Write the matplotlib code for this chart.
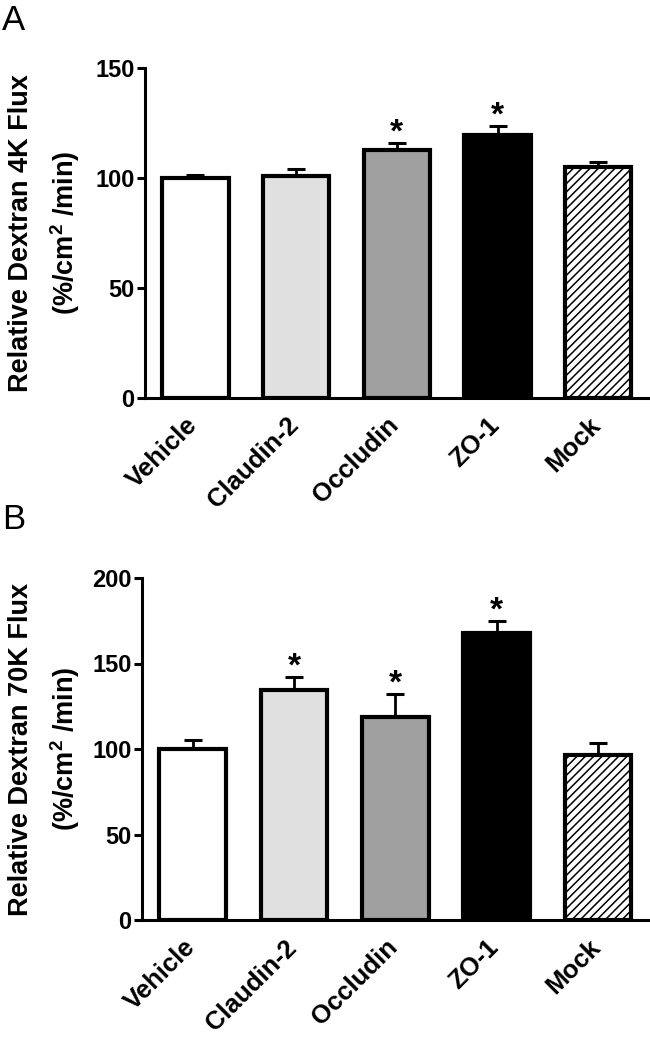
import matplotlib
matplotlib.use('Agg')
import matplotlib.pyplot as plt
import matplotlib.transforms as mtransforms
import numpy

plt.rcParams['font.family'] = ['Liberation Sans', 'DejaVu Sans']
plt.rcParams['font.weight'] = 'bold'
plt.rcParams['mathtext.fontset'] = 'custom'
plt.rcParams['mathtext.rm'] = 'Liberation Sans:bold'
plt.rcParams['mathtext.bf'] = 'Liberation Sans:bold'
plt.rcParams['hatch.linewidth'] = 1.1

groups = ['Vehicle', 'Claudin-2', 'Occludin', 'ZO-1', 'Mock']

flux_4k = [100.0, 101.0, 112.7, 119.8, 105.1]
err_4k = [1.5, 3.0, 3.2, 4.0, 2.4]
sig_4k = [False, False, True, True, False]

flux_70k = [100.0, 134.3, 118.6, 168.0, 96.6]
err_70k = [5.5, 7.8, 13.6, 6.6, 7.0]
sig_70k = [False, True, True, True, False]

FACES = ['white', '#e0e0e0', '#a0a0a0', 'black', 'white']
HATCHES = ['', '', '', '', '////']


def plot_panel(ax, values, errors, stars, ymax, step, ylabel, fig):
    x = numpy.arange(len(values))
    for i in range(len(values)):
        ax.bar(x[i], values[i], width=0.66, color=FACES[i], edgecolor='black',
               linewidth=3.0, hatch=HATCHES[i], zorder=2)
    ax.errorbar(x, values, yerr=[numpy.zeros(len(values)), errors], fmt='none',
                ecolor='black', elinewidth=2.0, capsize=6.5, capthick=2.2, zorder=1)
    for i, s in enumerate(stars):
        if s:
            ax.annotate('*', (x[i], values[i] + errors[i]), xytext=(0, 1),
                        textcoords='offset points', ha='center', va='baseline',
                        fontsize=24, fontweight='bold')

    ax.set_xlim(-0.5, len(values) - 0.5)
    ax.set_ylim(0, ymax)
    ax.set_yticks(numpy.arange(0, ymax + 1, step))
    ax.spines['top'].set_visible(False)
    ax.spines['right'].set_visible(False)
    for side in ['left', 'bottom']:
        ax.spines[side].set_linewidth(2.2)
    ax.tick_params(axis='y', length=5.5, width=2.2, labelsize=17, pad=2)
    ax.tick_params(axis='x', length=0, pad=11)
    for lab in ax.get_yticklabels():
        lab.set_family(['Liberation Sans Narrow', 'Liberation Sans'])
    ax.set_xticks(x)
    ax.set_xticklabels(groups, rotation=45, ha='right', fontsize=18.5)
    shift = mtransforms.ScaledTranslation(7 / 100, 0, fig.dpi_scale_trans)
    for lab in ax.get_xticklabels():
        lab.set_transform(lab.get_transform() + shift)

    pos = ax.get_position()
    yc = (pos.y0 + pos.y1) / 2
    fig.text(21 / 650, yc, ylabel[0], rotation=90, ha='center', va='center', fontsize=19.5)
    fig.text(65 / 650, yc, ylabel[1], rotation=90, ha='center', va='center', fontsize=19.5)


figure = plt.figure(figsize=(6.5, 10.37), dpi=100)

ax0 = figure.add_axes([145 / 650, 1 - 397.7 / 1037, 503.6 / 650, 329.4 / 1037])
ax1 = figure.add_axes([142 / 650, 1 - 920 / 1037, 506.6 / 650, 342 / 1037])

plot_panel(ax0, flux_4k, err_4k, sig_4k, 150, 50,
           ['Relative Dextran 4K Flux', '(%/cm$^{2}$ /min)'], figure)
plot_panel(ax1, flux_70k, err_70k, sig_70k, 200, 50,
           ['Relative Dextran 70K Flux', '(%/cm$^{2}$ /min)'], figure)

figure.text(2 / 650, 1 - 4 / 1037, 'A', fontsize=25, fontweight='normal', ha='left', va='top')
figure.text(2 / 650, 1 - 503 / 1037, 'B', fontsize=25, fontweight='normal', ha='left', va='top')

figure.savefig('out.png', dpi=100)
